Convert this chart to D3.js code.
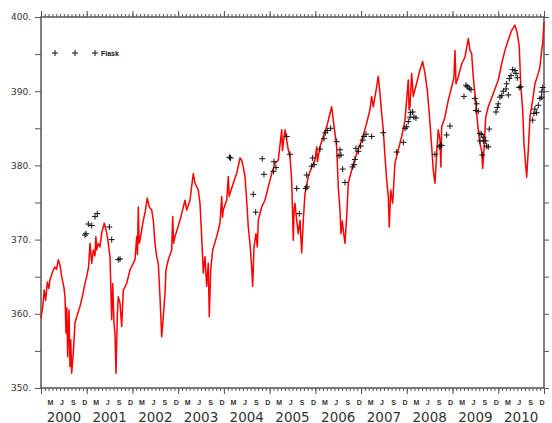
<!DOCTYPE html>
<html>
<head>
<meta charset="utf-8">
<script src="https://cdn.jsdelivr.net/npm/d3@7"></script>
<style>
  html, body { margin: 0; padding: 0; background: #fff; }
  svg { display: block; }
</style>
</head>
<body>
<svg id="chart" width="552" height="423"></svg>
<script>
// Continuous in-situ CO2 record (decimal year, ppm)
const redYear = [
  2000.000, 2000.040, 2000.070, 2000.100, 2000.140, 2000.170, 2000.197, 2000.250, 2000.300, 2000.340,
  2000.378, 2000.420, 2000.453, 2000.500, 2000.525, 2000.547, 2000.565, 2000.584, 2000.612, 2000.634,
  2000.650, 2000.671, 2000.706, 2000.744, 2000.781, 2000.853, 2000.900, 2000.962, 2000.999, 2001.040,
  2001.072, 2001.109, 2001.144, 2001.180, 2001.200, 2001.218, 2001.253, 2001.290, 2001.327, 2001.384, 2001.437,
  2001.472, 2001.509, 2001.546, 2001.568, 2001.596, 2001.620, 2001.640, 2001.668, 2001.690, 2001.728,
  2001.765, 2001.800, 2001.874, 2001.946, 2002.056, 2002.093, 2002.110, 2002.128, 2002.145, 2002.165,
  2002.202, 2002.237, 2002.280, 2002.325, 2002.368, 2002.421, 2002.456, 2002.493, 2002.530, 2002.565,
  2002.602, 2002.639, 2002.655, 2002.674, 2002.712, 2002.733, 2002.784, 2002.858, 2002.880, 2002.900,
  2002.930, 2003.040, 2003.149, 2003.186, 2003.258, 2003.330, 2003.368, 2003.440, 2003.477, 2003.514,
  2003.549, 2003.586, 2003.623, 2003.658, 2003.680, 2003.711, 2003.755, 2003.842, 2003.914, 2003.952,
  2003.970, 2003.986, 2004.061, 2004.096, 2004.115, 2004.133, 2004.205, 2004.279, 2004.352, 2004.389,
  2004.424, 2004.461, 2004.498, 2004.533, 2004.570, 2004.607, 2004.629, 2004.658, 2004.701, 2004.730,
  2004.752, 2004.826, 2004.898, 2004.970, 2005.045, 2005.117, 2005.189, 2005.264, 2005.280, 2005.298,
  2005.336, 2005.408, 2005.445, 2005.482, 2005.517, 2005.535, 2005.554, 2005.592, 2005.626, 2005.664,
  2005.701, 2005.736, 2005.773, 2005.845, 2005.920, 2005.992, 2006.029, 2006.045, 2006.101, 2006.173,
  2006.247, 2006.320, 2006.357, 2006.392, 2006.466, 2006.501, 2006.538, 2006.560, 2006.590, 2006.610,
  2006.648, 2006.685, 2006.720, 2006.794, 2006.904, 2007.013, 2007.122, 2007.194, 2007.231, 2007.267,
  2007.341, 2007.376, 2007.413, 2007.450, 2007.485, 2007.522, 2007.560, 2007.595, 2007.616, 2007.647,
  2007.691, 2007.741, 2007.813, 2007.888, 2007.960, 2008.032, 2008.050, 2008.069, 2008.106, 2008.141,
  2008.216, 2008.288, 2008.347, 2008.397, 2008.447, 2008.491, 2008.544, 2008.578, 2008.616, 2008.653,
  2008.688, 2008.725, 2008.745, 2008.762, 2008.834, 2008.907, 2008.981, 2009.030, 2009.053, 2009.075,
  2009.125, 2009.200, 2009.272, 2009.344, 2009.381, 2009.418, 2009.453, 2009.490, 2009.528, 2009.563,
  2009.600, 2009.637, 2009.659, 2009.687, 2009.725, 2009.781, 2009.891, 2010.000, 2010.074, 2010.146,
  2010.219, 2010.293, 2010.365, 2010.416, 2010.459, 2010.490, 2010.534, 2010.562, 2010.590, 2010.621,
  2010.656, 2010.693, 2010.752, 2010.802, 2010.875, 2010.912, 2010.949, 2010.971, 2011.000
];
const redCO2 = [
  359.4, 361.0, 363.2, 361.8, 364.3, 363.4, 364.6, 365.6, 366.3, 366.0,
  367.3, 366.4, 365.0, 363.6, 362.3, 357.4, 360.8, 354.2, 360.5, 352.9,
  356.5, 352.0, 354.7, 358.8, 359.6, 361.0, 362.2, 364.1, 365.0, 366.3,
  369.5, 366.8, 368.6, 367.8, 370.4, 368.6, 369.5, 369.0, 370.9, 372.2, 370.9,
  369.5, 367.7, 359.2, 364.1, 358.8, 357.0, 352.0, 359.6, 362.3, 361.4,
  358.3, 363.2, 364.1, 365.9, 367.3, 370.4, 368.0, 374.4, 369.5, 369.9,
  371.3, 372.6, 373.8, 375.6, 374.4, 374.0, 372.6, 369.5, 367.7, 366.8,
  362.3, 356.9, 358.0, 359.6, 362.7, 365.9, 367.3, 368.6, 373.1, 369.5,
  370.4, 372.6, 375.3, 374.0, 375.3, 378.9, 377.6, 376.7, 374.9, 370.4,
  365.5, 367.7, 363.7, 366.8, 359.6, 365.9, 368.6, 370.4, 372.2, 375.8,
  373.0, 374.0, 375.3, 378.5, 375.8, 376.2, 377.6, 378.9, 381.0, 380.7,
  379.8, 378.5, 375.3, 371.7, 369.5, 366.3, 363.7, 369.0, 370.8, 369.0,
  372.6, 374.4, 375.3, 377.1, 378.9, 380.3, 380.7, 384.8, 382.0, 383.0,
  384.8, 382.1, 381.2, 378.0, 369.9, 374.0, 374.9, 372.6, 370.8, 372.6,
  368.2, 372.6, 376.2, 378.5, 379.8, 380.7, 382.5, 380.5, 382.5, 383.9,
  385.2, 387.0, 387.9, 386.1, 382.5, 377.1, 374.0, 370.8, 372.5, 371.3,
  369.5, 373.1, 377.6, 379.4, 381.6, 383.4, 385.7, 387.5, 389.3, 387.9,
  390.6, 392.0, 389.7, 387.0, 384.8, 381.2, 378.0, 375.8, 371.7, 376.7,
  374.9, 380.3, 382.1, 383.9, 386.1, 391.5, 387.5, 387.9, 392.4, 389.3,
  391.1, 392.9, 394.0, 392.4, 390.2, 387.0, 382.5, 379.4, 377.6, 381.6,
  384.8, 383.4, 379.8, 385.2, 386.5, 388.8, 390.6, 391.8, 395.5, 391.0,
  391.9, 393.7, 394.6, 397.1, 395.5, 395.1, 391.9, 389.7, 387.0, 384.7,
  382.9, 382.0, 379.6, 382.0, 386.5, 387.9, 389.7, 391.5, 393.7, 395.5,
  396.9, 398.2, 398.9, 397.8, 396.0, 391.0, 387.4, 382.9, 380.7, 378.4,
  382.0, 386.5, 388.8, 391.0, 392.4, 393.3, 395.5, 396.4, 399.3
];

// Flask samples (decimal year, ppm)
const flaskYear = [
  2000.962, 2000.984, 2001.034, 2001.109, 2001.181, 2001.231, 2001.494, 2001.546, 2001.690, 2001.728,
  2004.120, 2004.145, 2004.642, 2004.695, 2004.839, 2004.876, 2005.084, 2005.095, 2005.139, 2005.373,
  2005.445, 2005.592, 2005.648, 2005.788, 2005.810, 2005.817, 2005.920, 2005.941, 2005.970, 2006.101,
  2006.188, 2006.217, 2006.261, 2006.335, 2006.466, 2006.517, 2006.538, 2006.560, 2006.597, 2006.648,
  2006.816, 2006.844, 2006.866, 2006.888, 2006.939, 2006.991, 2007.035, 2007.063, 2007.107, 2007.231,
  2007.485, 2007.778, 2007.923, 2007.960, 2007.997, 2008.032, 2008.069, 2008.084, 2008.128, 2008.156,
  2008.200, 2008.616, 2008.710, 2008.741, 2008.762, 2008.872, 2008.944, 2009.250, 2009.294, 2009.322,
  2009.366, 2009.403, 2009.490, 2009.512, 2009.528, 2009.563, 2009.600, 2009.600, 2009.637, 2009.650,
  2009.672, 2009.672, 2009.725, 2009.746, 2009.781, 2009.803, 2009.950, 2009.978, 2010.000, 2010.037,
  2010.074, 2010.110, 2010.168, 2010.183, 2010.219, 2010.241, 2010.278, 2010.315, 2010.365, 2010.387,
  2010.416, 2010.459, 2010.490, 2010.752, 2010.780, 2010.802, 2010.840, 2010.875, 2010.912, 2010.949,
  2010.949, 2010.971
];
const flaskCO2 = [
  370.6, 370.8, 372.1, 371.9, 373.1, 373.5, 371.7, 370.0, 367.3, 367.4,
  381.1, 381.0, 376.1, 373.7, 380.9, 378.8, 379.2, 380.5, 379.7, 383.9,
  381.5, 376.9, 373.5, 376.9, 378.7, 377.1, 379.9, 381.0, 380.1, 382.2,
  383.6, 384.4, 384.7, 385.0, 383.2, 381.3, 382.1, 381.4, 379.5, 377.7,
  379.8, 380.1, 380.8, 382.3, 381.9, 382.6, 383.4, 383.9, 384.2, 383.9,
  384.4, 381.8, 383.1, 385.0, 385.2, 385.9, 386.5, 387.1, 387.2, 386.5,
  386.4, 381.5, 382.5, 382.7, 382.7, 384.1, 385.3, 389.3, 390.8, 390.6,
  390.4, 390.2, 389.0, 387.4, 388.3, 387.3, 384.3, 383.3, 384.2, 381.4,
  383.8, 383.3, 383.3, 382.6, 382.5, 384.9, 387.2, 387.8, 388.3, 389.2,
  389.4, 390.0, 390.3, 391.0, 389.5, 391.7, 392.1, 392.9, 392.8, 392.4,
  391.8, 390.5, 390.6, 386.1, 387.0, 387.6, 387.1, 388.1, 389.0, 389.9,
  389.2, 390.5
];

// Axis ticks and labels
const yTicks = [350, 355, 360, 365, 370, 375, 380, 385, 390, 395, 400];
const yearTicks = d3.range(2000, 2012);
const yearLabels = ["2000", "2001", "2002", "2003", "2004", "2005", "2006", "2007", "2008", "2009", "2010"];
const monthLetters = ["M", "J", "S", "D"];
const monthLetterIndex = [2, 5, 8, 11];
const legendLabel = "Flask";

const svg = d3.select("#chart");
const x = d3.scaleLinear().domain([2000, 2011]).range([41, 544]);
const y = d3.scaleLinear().domain([350, 400]).range([388, 17]);

const axisColor = "#555";
const monthTicks = d3.range(0, 133).map(i => 2000 + i / 12);

function styleAxis(g) {
  g.selectAll("path.domain").remove();
  g.selectAll("line").attr("stroke", axisColor).attr("stroke-width", 1);
}

// Bottom and top: monthly minor ticks + yearly major ticks
const gBottomMinor = svg.append("g").attr("transform", `translate(0,${y(350)})`)
  .call(d3.axisBottom(x).tickValues(monthTicks).tickSize(3).tickFormat(""));
styleAxis(gBottomMinor);
const gBottomMajor = svg.append("g").attr("transform", `translate(0,${y(350)})`)
  .call(d3.axisBottom(x).tickValues(yearTicks).tickSize(6).tickFormat(""));
styleAxis(gBottomMajor);
const gTopMinor = svg.append("g").attr("transform", `translate(0,${y(400)})`)
  .call(d3.axisTop(x).tickValues(monthTicks).tickSize(3).tickFormat(""));
styleAxis(gTopMinor);
const gTopMajor = svg.append("g").attr("transform", `translate(0,${y(400)})`)
  .call(d3.axisTop(x).tickValues(yearTicks).tickSize(6).tickFormat(""));
styleAxis(gTopMajor);

// Left axis with labels, right axis ticks only
const gLeft = svg.append("g").attr("transform", `translate(${x(2000)},0)`)
  .call(d3.axisLeft(y).tickValues(yTicks).tickSize(6).tickPadding(4)
    .tickFormat(d => d % 10 === 0 ? d + "." : ""));
styleAxis(gLeft);
gLeft.selectAll("text")
  .attr("font-family", "DejaVu Sans, sans-serif")
  .attr("font-size", 9)
  .attr("fill", "#333");
const gRight = svg.append("g").attr("transform", `translate(${x(2011)},0)`)
  .call(d3.axisRight(y).tickValues(yTicks).tickSize(5).tickFormat(""));
styleAxis(gRight);

// Month initials and year labels under the axis
const monthLabelData = [];
yearLabels.forEach((yr, i) => {
  monthLetterIndex.forEach((m, j) => {
    monthLabelData.push({ t: 2000 + i + (m + 0.5) / 12, s: monthLetters[j] });
  });
});
svg.append("g").selectAll("text").data(monthLabelData).join("text")
  .attr("x", d => x(d.t))
  .attr("y", 404.5)
  .attr("text-anchor", "middle")
  .attr("font-family", "Liberation Sans, Arial, sans-serif")
  .attr("font-weight", "bold")
  .attr("font-size", 7)
  .attr("fill", "#333")
  .text(d => d.s);

svg.append("g").selectAll("text").data(yearLabels).join("text")
  .attr("x", (d, i) => x(2000 + i + 0.5))
  .attr("y", 421.5)
  .attr("text-anchor", "middle")
  .attr("font-family", "DejaVu Sans, sans-serif")
  .attr("font-size", 13.5)
  .attr("fill", "#333")
  .text(d => d);

// Plot frame
svg.append("rect")
  .attr("x", x(2000)).attr("y", y(400))
  .attr("width", x(2011) - x(2000)).attr("height", y(350) - y(400))
  .attr("fill", "none").attr("stroke", axisColor).attr("stroke-width", 1.5);

// Continuous record
const redData = redYear.map((t, i) => [t, redCO2[i]]);
svg.append("path")
  .datum(redData)
  .attr("fill", "none")
  .attr("stroke", "#ff0000")
  .attr("stroke-width", 1.5)
  .attr("stroke-linejoin", "round")
  .attr("d", d3.line().x(d => x(d[0])).y(d => y(d[1])));

// Flask samples as plus markers
function plusPath(cx, cy, r) {
  return `M${cx - r},${cy}H${cx + r}M${cx},${cy - r}V${cy + r}`;
}
const flaskData = flaskYear.map((t, i) => [t, flaskCO2[i]]);
svg.append("g").selectAll("path").data(flaskData).join("path")
  .attr("d", d => plusPath(x(d[0]), y(d[1]), 3))
  .attr("stroke", "#111")
  .attr("stroke-width", 1)
  .attr("fill", "none");

// Legend
const legendY = 53;
const legend = svg.append("g");
[55, 75, 95].forEach(lx => {
  legend.append("path")
    .attr("d", plusPath(lx, legendY, 3))
    .attr("stroke", "#111").attr("stroke-width", 1).attr("fill", "none");
});
legend.append("text")
  .attr("x", 101).attr("y", legendY + 2.5)
  .attr("font-family", "Liberation Sans, Arial, sans-serif")
  .attr("font-weight", "bold")
  .attr("font-size", 7)
  .attr("fill", "#111")
  .text(legendLabel);
</script>
</body>
</html>
